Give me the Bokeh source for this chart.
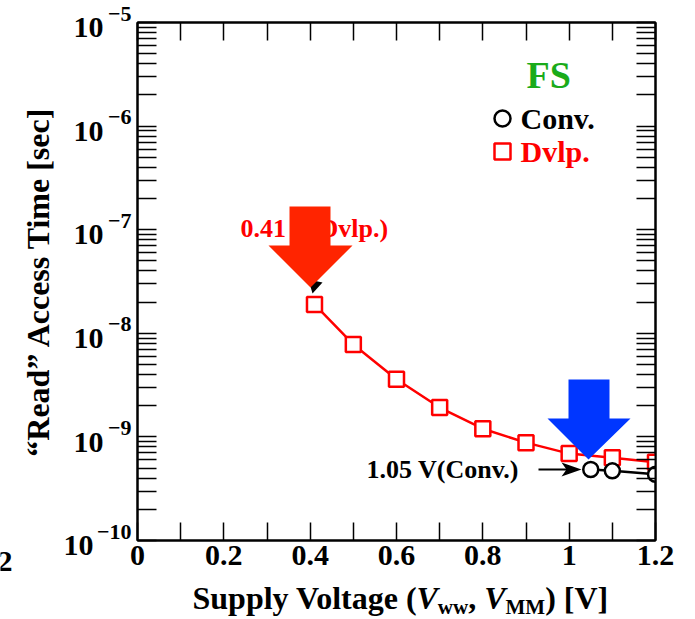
import math
from bokeh.plotting import figure
from bokeh.layouts import row, column
from bokeh.models import LogAxis, LinearAxis, FixedTicker, Range1d
from bokeh.core.properties import value
from bokeh.embed import file_html
from bokeh.resources import INLINE

# ---------------- data ----------------
dvlp_v = [0.41, 0.5, 0.6, 0.7, 0.8, 0.9, 1.0, 1.1, 1.2]
dvlp_t = [1.9e-8, 7.8e-9, 3.6e-9, 1.92e-9, 1.2e-9, 8.8e-10, 6.9e-10, 6.3e-10, 5.7e-10]
conv_v = [1.05, 1.1, 1.2]
conv_t = [4.85e-10, 4.7e-10, 4.35e-10]

x_major = [0, 0.2, 0.4, 0.6, 0.8, 1.0, 1.2]
x_minor = [0.1, 0.3, 0.5, 0.7, 0.9, 1.1]
x_tick_labels = ["0", "0.2", "0.4", "0.6", "0.8", "1", "1.2"]
y_exponents = [-10, -9, -8, -7, -6, -5]
y_base_labels = ["10\u2006\u2006", "10", "10", "10", "10", "10"]
y_exp_labels = ["\u221210", "\u22129", "\u22128", "\u22127", "\u22126", "\u22125"]
legend_labels = ["Conv.", "Dvlp."]
legend_title = "FS"
y_title = "\u201cRead\u201d Access Time [sec]"

FONT = "Liberation Serif"

# ---------------- geometry (absolute page pixels) ----------------
W, H = 695, 619
STRIP = 14                 # narrow strip on the left (cut-off label of a neighbour)
MAIN_H = 582               # main figure height, x-title strip below it
L, R, T, B = 137, 655, 22, 540   # plot frame
X0, X1 = 0.0, 1.2
E0, E1 = -10, -5


def dx(px):
    return X0 + (px - L) / (R - L) * (X1 - X0)


def dy(py):
    return 10 ** (E0 + (B - py) / (B - T) * (E1 - E0))


p = figure(width=W - STRIP, height=MAIN_H, output_backend="svg",
           toolbar_location=None, y_axis_type="log",
           x_range=Range1d(X0, X1), y_range=Range1d(10 ** E0, 10 ** E1),
           min_border_left=L - STRIP, min_border_right=W - R,
           min_border_top=T, min_border_bottom=MAIN_H - B,
           background_fill_color="white", border_fill_color="white")
p.xgrid.visible = False
p.ygrid.visible = False
p.outline_line_color = "black"
p.outline_line_width = 2

y_major = [10.0 ** e for e in y_exponents]
y_minor = [k * 10.0 ** e for e in y_exponents[:-1] for k in range(2, 10)]


def style_common(ax, n, size=30):
    ax.major_tick_in = n
    ax.major_tick_out = 0
    ax.minor_tick_in = n
    ax.minor_tick_out = 0
    ax.axis_line_width = 2
    ax.major_tick_line_width = 1.5
    ax.minor_tick_line_width = 1.5
    ax.major_label_text_font = FONT
    ax.major_label_text_font_style = "bold"
    ax.major_label_text_font_size = f"{size}px"
    ax.major_label_text_color = "black"


# bottom axis
bx_ax = p.xaxis[0]
bx_ax.ticker = FixedTicker(ticks=x_major, minor_ticks=x_minor)
style_common(bx_ax, 18)
bx_ax.major_label_overrides = {t: s for t, s in zip(x_major, x_tick_labels)}
bx_ax.major_label_standoff = 5

# left axis (frame side): ticks + exponent part of the 10^n labels
ly = p.yaxis[0]
ly.ticker = FixedTicker(ticks=y_major, minor_ticks=y_minor)
style_common(ly, 19, size=22)
ly.major_label_overrides = {t: s + "\n" for t, s in zip(y_major, y_exp_labels)}
ly.major_label_text_line_height = 0.75
ly.major_label_standoff = 6

# outer left axis: base "10" of the labels (set slightly below the tick) and the title
ly2 = LogAxis(ticker=FixedTicker(ticks=y_major, minor_ticks=[]))
style_common(ly2, 0)
ly2.axis_line_color = None
ly2.major_tick_line_color = None
ly2.minor_tick_line_color = None
ly2.major_label_overrides = {t: "\n" + s for t, s in zip(y_major, y_base_labels)}
ly2.major_label_text_line_height = 0.25
ly2.major_label_standoff = -10
ly2.axis_label = y_title
ly2.axis_label_text_font = FONT
ly2.axis_label_text_font_style = "bold"
ly2.axis_label_text_font_size = "32px"
ly2.axis_label_text_color = "black"
ly2.axis_label_standoff = 5
p.add_layout(ly2, "left")

# top / right axes: ticks only (all ticks given as minor ticks -> no labels)
top_ax = LinearAxis(ticker=FixedTicker(ticks=[], minor_ticks=x_major + x_minor))
style_common(top_ax, 18)
p.add_layout(top_ax, "above")
right_ax = LogAxis(ticker=FixedTicker(ticks=[], minor_ticks=y_major + y_minor))
style_common(right_ax, 19)
p.add_layout(right_ax, "right")


def add_text(fig, x, y, text, size, color="black", style="bold",
             align="left", baseline="middle"):
    fig.text(x=[x], y=[y], text=[text], text_font=value(FONT),
             text_font_style=style, text_font_size=value(f"{size}px"),
             text_color=color, text_align=align, text_baseline=baseline)


# ---------------- annotation texts under the arrows ----------------
add_text(p, dx(240), dy(228), "0.41 V(Dvlp.)", 26, color="#ff0000")
add_text(p, dx(366), dy(469), "1.05 V(Conv.)", 26)

# ---------------- series ----------------
p.line(dvlp_v, dvlp_t, line_color="#ff0000", line_width=2.5)
p.scatter(dvlp_v, dvlp_t, marker="square", size=15,
          line_color="#ff0000", line_width=2.5, fill_color="white")
p.line(conv_v, conv_t, line_color="black", line_width=2.5)
p.scatter(conv_v, conv_t, marker="circle", size=15,
          line_color="black", line_width=2.5, fill_color="white")

# small black arrowhead hidden behind the red block arrow
p.patch([dx(312), dx(308), dx(322)], [dy(293), dy(279), dy(282)],
        fill_color="black", line_color=None)

# red block arrow (0.41 V)
rx = [289, 330, 330, 352, 310, 268, 289]
ry = [206, 206, 245, 245, 287, 245, 245]
p.patch([dx(v) for v in rx], [dy(v) for v in ry], fill_color="#ff2400",
        line_color=None)

# blue block arrow (1.05 V)
bxp = [568, 609, 609, 630, 588, 547, 568]
byp = [379, 379, 418, 418, 459, 418, 418]
p.patch([dx(v) for v in bxp], [dy(v) for v in byp], fill_color="#0036ff",
        line_color=None)

# black pointer arrow to the 1.05 V point
p.line([dx(538), dx(568)], [dy(469), dy(469)], line_color="black", line_width=2)
p.patch([dx(581), dx(561), dx(566), dx(561)], [dy(469), dy(462), dy(469), dy(476)],
        fill_color="black", line_color=None)

# ---------------- legend (keys + texts) ----------------
p.scatter([dx(502)], [dy(118)], marker="circle", size=16,
          line_color="black", line_width=2.5, fill_color="white")
p.scatter([dx(502)], [dy(151)], marker="square", size=16,
          line_color="#ff0000", line_width=2.5, fill_color="white")
add_text(p, dx(526), dy(74), legend_title, 38, color="#1aab1a")
add_text(p, dx(520), dy(118), legend_labels[0], 30)
add_text(p, dx(520), dy(151), legend_labels[1], 30, color="#ff0000")

# ---------------- strip with x title (absolute pixel coordinates) ----------------
# (its frame is aligned with the main frame: x from L to R)
bottom = figure(width=W - STRIP, height=H - MAIN_H, output_backend="svg",
                toolbar_location=None, x_range=Range1d(L, R),
                y_range=Range1d(H, MAIN_H), x_axis_location=None,
                y_axis_location=None, min_border=0,
                min_border_left=0, min_border_right=0,
                min_border_top=0, min_border_bottom=0)
bottom.outline_line_color = None
bottom.xgrid.visible = False
bottom.ygrid.visible = False

EM = 32
SUB = 21
pieces = [
    ("Supply Voltage (", "bold", EM, 7.0 * EM, 0),
    ("V", "bold italic", EM, 0.667 * EM, 0),
    ("ww", "bold", SUB, 1.444 * SUB, 9),
    (", ", "bold", EM, 0.5 * EM, 0),
    ("V", "bold italic", EM, 0.667 * EM, 0),
    ("MM", "bold", SUB, 1.888 * SUB, 9),
    (") [V]", "bold", EM, 1.971 * EM, 0),
]
xc = 192
for txt, style, size, wdt, drop in pieces:
    add_text(bottom, xc, 597 + drop, txt, size, style=style)
    xc += wdt

# ---------------- left strip: cut-off tick label of neighbouring panel ----------------
strip = figure(width=STRIP, height=H, output_backend="svg",
               toolbar_location=None, x_range=Range1d(0, STRIP),
               y_range=Range1d(H, 0), x_axis_location=None,
               y_axis_location=None, min_border=0,
               min_border_left=0, min_border_right=0,
               min_border_top=0, min_border_bottom=0)
strip.outline_line_color = None
strip.xgrid.visible = False
strip.ygrid.visible = False
add_text(strip, 12, 561, "2", 30, align="right")

layout = row(strip, column(p, bottom, spacing=0), spacing=0)
open("out.html", "w").write(file_html(layout, INLINE))
